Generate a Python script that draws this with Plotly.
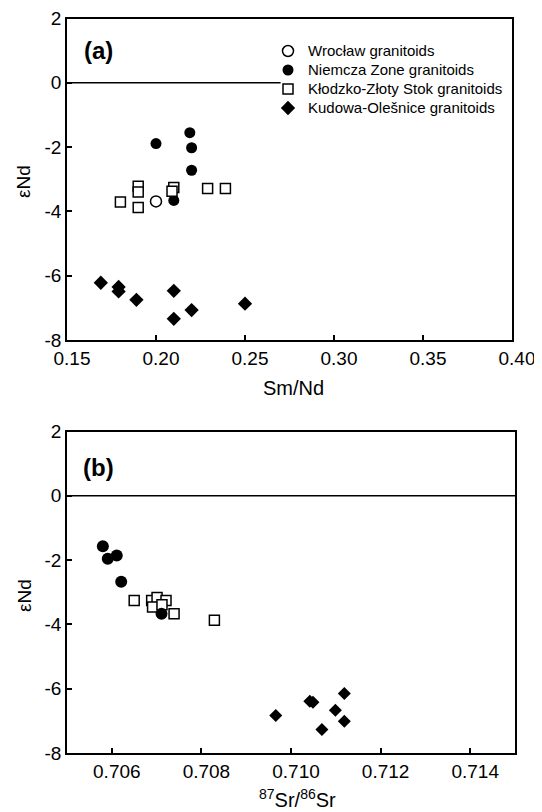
import plotly.graph_objects as go

# ---------- Panel (a): Sm/Nd vs eNd ----------
a_wroclaw_x = [0.200]
a_wroclaw_y = [-3.69]
a_niemcza_x = [0.200, 0.219, 0.220, 0.220, 0.210]
a_niemcza_y = [-1.89, -1.55, -2.02, -2.72, -3.66]
a_klodzko_x = [0.180, 0.190, 0.190, 0.190, 0.210, 0.209, 0.229, 0.239]
a_klodzko_y = [-3.71, -3.22, -3.40, -3.88, -3.26, -3.37, -3.29, -3.29]
a_kudowa_x = [0.169, 0.179, 0.179, 0.189, 0.210, 0.210, 0.220, 0.250]
a_kudowa_y = [-6.22, -6.35, -6.49, -6.75, -6.47, -7.34, -7.07, -6.87]

# ---------- Panel (b): 87Sr/86Sr vs eNd ----------
b_niemcza_x = [0.70580, 0.70591, 0.70611, 0.70621, 0.70711]
b_niemcza_y = [-1.57, -1.96, -1.86, -2.67, -3.67]
b_klodzko_x = [0.70650, 0.70689, 0.70701, 0.70721, 0.70691, 0.70712, 0.70739, 0.70829]
b_klodzko_y = [-3.26, -3.26, -3.16, -3.26, -3.46, -3.39, -3.67, -3.87]
b_kudowa_x = [0.70966, 0.71042, 0.71049, 0.71119, 0.71099, 0.71119, 0.71069]
b_kudowa_y = [-6.83, -6.39, -6.42, -6.15, -6.67, -7.01, -7.27]

a_xticks = [0.15, 0.20, 0.25, 0.30, 0.35, 0.40]
a_xtick_text = ["0.15", "0.20", "0.25", "0.30", "0.35", "0.40"]
b_xticks = [0.706, 0.708, 0.710, 0.712, 0.714]
b_xtick_text = ["0.706", "0.708", "0.710", "0.712", "0.714"]
y_ticks = [2, 0, -2, -4, -6, -8]
y_tick_text = ["2", "0", "-2", "-4", "-6", "-8"]

names = ["Wrocław granitoids", "Niemcza Zone granitoids",
         "Kłodzko-Złoty Stok granitoids", "Kudowa-Olešnice granitoids"]

FONT = "Liberation Sans, Arial, sans-serif"

def legend_name(n):
    return f"<span style='font-size:15px'>{n}</span>"

fig = go.Figure()

def circle_open(size):
    return dict(symbol="circle-open", size=size, color="black", line=dict(width=1.5, color="black"))

def circle_fill(size):
    return dict(symbol="circle", size=size, color="black", line=dict(width=0))

def square_open(size):
    return dict(symbol="square", size=size, color="white", line=dict(width=1.5, color="black"))

def diamond(size):
    return dict(symbol="diamond", size=size, color="black", line=dict(width=0))

# panel a traces (with legend)
fig.add_trace(go.Scatter(x=a_wroclaw_x, y=a_wroclaw_y, mode="markers", name=legend_name(names[0]),
                         marker=circle_open(11), xaxis="x", yaxis="y"))
fig.add_trace(go.Scatter(x=a_niemcza_x, y=a_niemcza_y, mode="markers", name=legend_name(names[1]),
                         marker=circle_fill(11), xaxis="x", yaxis="y"))
fig.add_trace(go.Scatter(x=a_klodzko_x, y=a_klodzko_y, mode="markers", name=legend_name(names[2]),
                         marker=square_open(10), xaxis="x", yaxis="y"))
fig.add_trace(go.Scatter(x=a_kudowa_x, y=a_kudowa_y, mode="markers", name=legend_name(names[3]),
                         marker=diamond(11), xaxis="x", yaxis="y"))

# panel b traces
fig.add_trace(go.Scatter(x=b_klodzko_x, y=b_klodzko_y, mode="markers", name=names[2],
                         marker=square_open(10), xaxis="x2", yaxis="y2", showlegend=False))
fig.add_trace(go.Scatter(x=b_niemcza_x, y=b_niemcza_y, mode="markers", name=names[1],
                         marker=circle_fill(12), xaxis="x2", yaxis="y2", showlegend=False))
fig.add_trace(go.Scatter(x=b_kudowa_x, y=b_kudowa_y, mode="markers", name=names[3],
                         marker=diamond(10), xaxis="x2", yaxis="y2", showlegend=False))

# the page body adds an 8px offset; size the figure to fit the window
OFF = 8
W, H = 542 - OFF, 812 - OFF
def px_x(p):
    return (p - OFF) / W
def px_y(p):
    return 1 - (p - OFF) / H

axis_common = dict(showline=True, mirror=True, linecolor="black", linewidth=1.5,
                   ticks="inside", ticklen=5, tickwidth=1.5, tickcolor="black",
                   showgrid=False, zeroline=False, automargin=False,
                   tickfont=dict(family=FONT, size=19, color="black"))

fig.update_layout(
    template="none",
    width=W, height=H,
    margin=dict(l=0, r=0, t=0, b=0, pad=0),
    paper_bgcolor="white", plot_bgcolor="white",
    showlegend=True,
    legend=dict(x=px_x(268), y=px_y(36.5), xanchor="left", yanchor="top",
                bgcolor="rgba(0,0,0,0)", borderwidth=0,
                font=dict(family=FONT, size=12, color="black"),
                itemwidth=30),
    xaxis=dict(domain=[px_x(67), px_x(512)], range=[0.15, 0.40], tickvals=a_xticks,
               ticktext=a_xtick_text, anchor="y", ticklabelshift=5, **axis_common),
    yaxis=dict(domain=[px_y(340), px_y(18.5)], range=[-8, 2], tickvals=y_ticks,
               ticktext=y_tick_text, anchor="x", **axis_common),
    xaxis2=dict(domain=[px_x(67), px_x(515)], range=[0.705, 0.715], tickvals=b_xticks,
                ticktext=b_xtick_text, anchor="y2", ticklabelshift=5, **axis_common),
    yaxis2=dict(domain=[px_y(753), px_y(431.5)], range=[-8, 2], tickvals=y_ticks,
                ticktext=y_tick_text, anchor="x2", **axis_common),
)

# zero reference lines
fig.add_shape(type="line", xref="x", yref="y", x0=0.15, x1=0.27, y0=0, y1=0,
              line=dict(color="black", width=1.5))
fig.add_shape(type="line", xref="x2", yref="y2", x0=0.705, x1=0.715, y0=0, y1=0,
              line=dict(color="black", width=1.5))

def ann(text, x, y, size, bold=False, angle=0):
    fig.add_annotation(text=f"<b>{text}</b>" if bold else text,
                       xref="paper", yref="paper", x=x, y=y,
                       xanchor="center", yanchor="middle", showarrow=False,
                       textangle=angle,
                       font=dict(family=FONT, size=size, color="black"))

ann("(a)", px_x(98), px_y(51), 24, bold=True)
ann("(b)", px_x(98), px_y(467), 24, bold=True)
ann("Sm/Nd", px_x(293), px_y(388), 20)
ann("<sup>87</sup>Sr/<sup>86</sup>Sr", px_x(297), px_y(798), 20)
ann("εNd", px_x(24), px_y(182), 19, angle=-90)
ann("εNd", px_x(24), px_y(596), 19, angle=-90)

fig.write_html("out.html")
